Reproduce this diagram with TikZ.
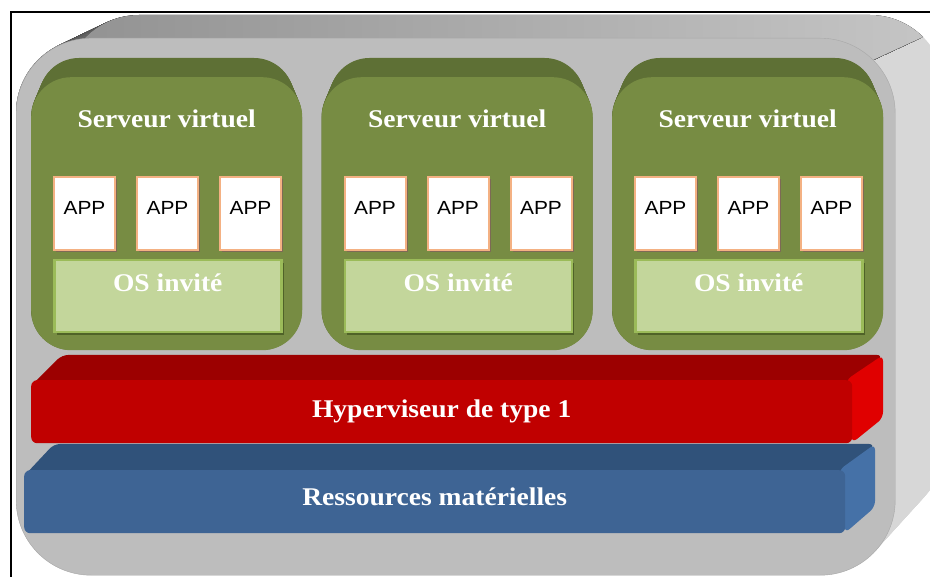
\documentclass[tikz,border=0pt]{standalone}
\usepackage{fontspec}
\setmainfont{Liberation Serif}[FakeStretch=1.08]
\newfontfamily\appfont{Liberation Sans}[FakeStretch=1.1]
\usepackage{tikz}
\usetikzlibrary{positioning, calc, shadows}
\usepackage{xcolor}
\definecolor{box-front}{HTML}{BDBDBD}
\definecolor{box-edge}{HTML}{A8A8A8}
\definecolor{box-top}{HTML}{929292}
\definecolor{box-side}{HTML}{D7D7D7}
\definecolor{vm-front}{HTML}{778C43}
\definecolor{vm-top}{HTML}{5E7035}
\definecolor{app-edge}{HTML}{F4B183}
\definecolor{app-shadow}{HTML}{7D6A55}
\definecolor{os-fill}{HTML}{C3D69B}
\definecolor{os-edge}{HTML}{9BBB59}
\definecolor{os-shadow}{HTML}{4F6228}
\definecolor{hyp-front}{HTML}{C00000}
\definecolor{hyp-top}{HTML}{9C0000}
\definecolor{hyp-side}{HTML}{E00000}
\definecolor{hw-front}{HTML}{3E6494}
\definecolor{hw-top}{HTML}{30527A}
\definecolor{hw-side}{HTML}{4571A7}
\tikzset{
	host/.style={draw=box-edge, fill=box-front, rounded corners=75pt, minimum width=879pt, minimum height=537pt, anchor=north west, inner sep=0pt},
	vm/.style={fill=vm-front, rounded corners=40pt, minimum width=271pt, minimum height=273pt, anchor=north west, inner sep=0pt},
	title/.style={text=white, font=\fontsize{25.5}{30}\selectfont\bfseries},
	app/.style={draw=app-edge, line width=2pt, fill=white, minimum width=61pt, minimum height=73pt, inner sep=0pt, text depth=11pt, font=\appfont\fontsize{19}{22}\selectfont, drop shadow={shadow xshift=2pt, shadow yshift=-2pt, fill=app-shadow, opacity=1}},
	os/.style={draw=os-edge, line width=2.5pt, fill=os-fill, minimum width=227pt, minimum height=72pt, inner sep=0pt, anchor=north west, drop shadow={shadow xshift=2.5pt, shadow yshift=-2.5pt, fill=os-shadow, opacity=1}},
	layer/.style={rounded corners=6pt, minimum width=821pt, minimum height=63pt, anchor=north west, inner sep=0pt, text=white, font=\fontsize{25.5}{30}\selectfont\bfseries}
}
\begin{document}
\begin{tikzpicture}[x=1pt, y=-1pt, node distance=20pt]
	\useasboundingbox (0,0) rectangle (930,577);
	\clip (0,0) rectangle (930,577);
	\fill[white] (0,0) rectangle (930,577);
	% outer box, sides
	\foreach \t in {0,1,...,46}
		\fill[box-side, rounded corners=75pt] (16+48*\t/46, 38-23*\t/46) rectangle (895+50*\t/46, 575-55*\t/46);
	\begin{scope}
		\clip (-10,-10) -- (1025,-10) -- (569,200) -- (-10,200) -- cycle;
		\foreach \t in {0,1,...,46}
			\fill[left color=box-top, middle color=box-top, right color=box-top!25!box-side, rounded corners=75pt] (16+48*\t/46, 38-23*\t/46) rectangle (895+50*\t/46, 575-55*\t/46);
	\end{scope}
	\node[host] (host) at (16,38) {};
	% virtual servers
	\foreach \i in {1,2,3} {
		\pgfmathsetmacro{\x}{31+290.5*(\i-1)}
		\foreach \t in {0,1,...,20}
			\fill[vm-top, rounded corners=40pt] (\x+8*\t/20, 77-19*\t/20) rectangle (\x+271-8*\t/20, 350-19*\t/20);
		\node[vm] (vm\i) at (\x,77) {};
		\node[title] (title\i) at ($(vm\i.north)+(0,42)$) {Serveur virtuel};
		\node[app, anchor=north west] (app\i-1) at ($(vm\i.north west)+(22,99)$) {APP};
		\node[app, right=of app\i-1] (app\i-2) {APP};
		\node[app, right=of app\i-2] (app\i-3) {APP};
		\node[os] (os\i) at ($(vm\i.north west)+(22,182)$) {};
		\node[title] (guest\i) at ($(os\i.north)+(0,24)$) {OS invité};
	}
	% hypervisor
	\fill[hyp-top, rounded corners=6pt] (31,386) -- (62,355) -- (883,355) -- (852,386) -- cycle;
	\fill[hyp-side, rounded corners=6pt] (846,380) -- (883,355) -- (883,418) -- (852,443) -- cycle;
	\node[layer, fill=hyp-front] (hyp) at (31,380) {Hyperviseur de type 1};
	% hardware
	\fill[hw-top, rounded corners=6pt] (24,476) -- (54,444) -- (875,444) -- (845,476) -- cycle;
	\fill[hw-side, rounded corners=6pt] (839,470) -- (875,444) -- (875,507) -- (845,533) -- cycle;
	\node[layer, fill=hw-front] (hw) at (24,470) {};
	\node[layer, draw=none, fill=none, anchor=center] (hwtext) at ($(hw.center)+(0,-5)$) {Ressources matérielles};
	% frame
	\draw[line width=2pt] (11,12) rectangle (945,590);
\end{tikzpicture}
\end{document}
